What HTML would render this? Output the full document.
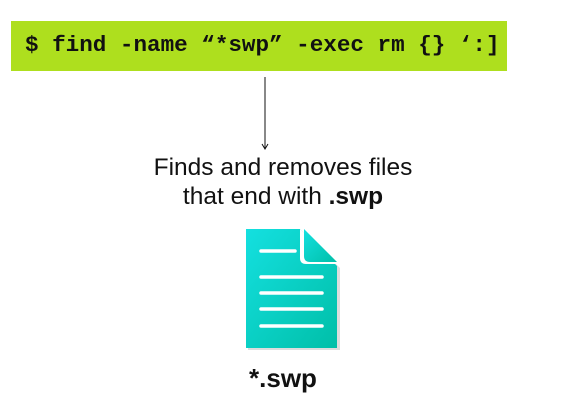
<!DOCTYPE html>
<html><head><style>
body{margin:0;width:563px;height:405px;background:#fff;position:relative;overflow:hidden;font-family:"Liberation Sans",sans-serif}
.bar{position:absolute;left:11px;top:21px;width:496px;height:50px;background:#aedf1e}
.cmd{position:absolute;left:25px;top:32px;font-family:"Liberation Mono",monospace;font-weight:bold;font-size:22.6px;line-height:26px;color:#111;white-space:pre}
.t{position:absolute;left:0;width:566px;text-align:center;font-size:24.5px;line-height:28px;color:#111}
</style></head><body>
<div class="bar"></div>
<div class="cmd">$ find -name “*swp” -exec rm {} ‘:]</div>
<svg width="563" height="405" style="position:absolute;left:0;top:0">
<line x1="265" y1="77" x2="265" y2="148" stroke="#111" stroke-width="1"/>
<path d="M262 144 L265 149 L268 144" fill="none" stroke="#111" stroke-width="1"/>
<defs><linearGradient id="g" x1="0" y1="0" x2="1" y2="1"><stop offset="0" stop-color="#14e0e0"/><stop offset="1" stop-color="#00bfa8"/></linearGradient></defs>
<path d="M248 231 H302 L340 268 V350 H248 Z" fill="#bbb" opacity="0.5"/>
<path d="M246 229 H300 L337 266 V348 H246 Z" fill="url(#g)"/>
<path d="M300 229 V258 Q300 264 306 264 H337 Z" fill="#fff"/>
<path d="M304 229 L337 262 H310 Q304 262 304 256 Z" fill="url(#g)"/>
<g stroke="#fff" stroke-width="3.5" stroke-linecap="round">
<line x1="261" y1="251" x2="295" y2="251"/>
<line x1="261" y1="277" x2="322" y2="277"/>
<line x1="261" y1="293" x2="322" y2="293"/>
<line x1="261" y1="309" x2="322" y2="309"/>
<line x1="261" y1="326" x2="322" y2="326"/>
</g>
</svg>
<div class="t" style="top:154px">Finds and removes files</div>
<div class="t" style="top:183px">that end with <b>.swp</b></div>
<div class="t" style="top:364px;font-weight:bold;font-size:26px">*.swp</div>
</body></html>
